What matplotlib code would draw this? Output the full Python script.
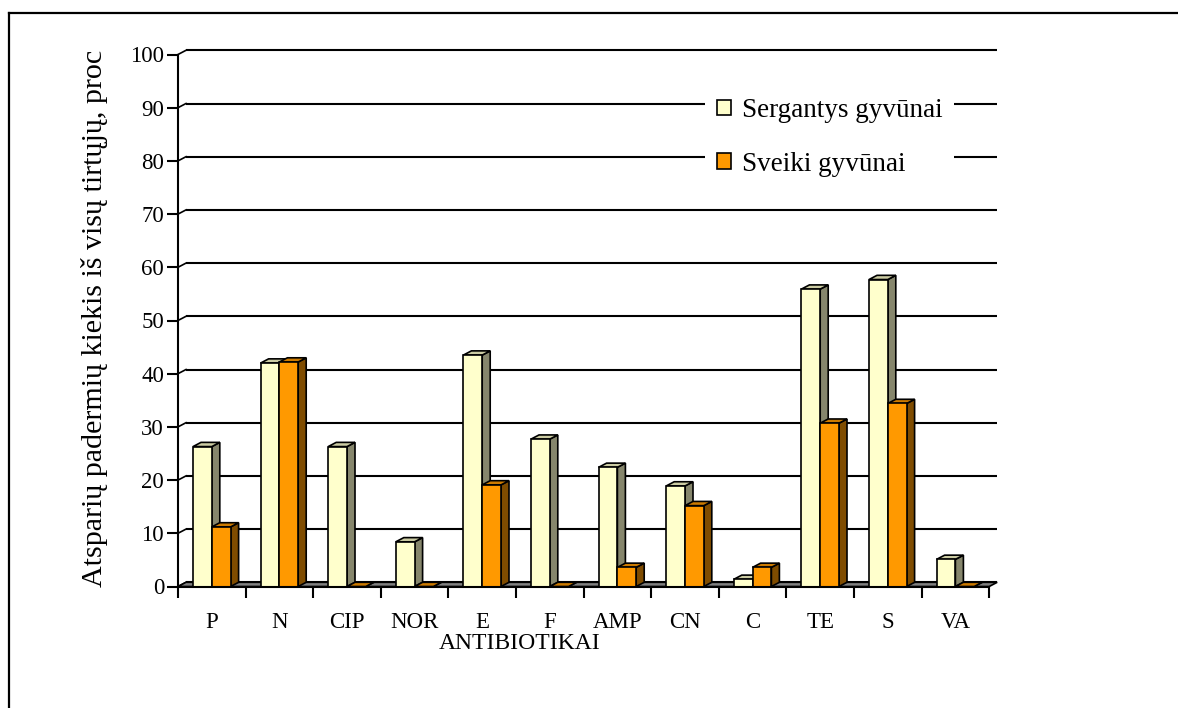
import matplotlib
matplotlib.use("Agg")
import matplotlib.pyplot as plt
from matplotlib.patches import Polygon, Patch
from matplotlib.lines import Line2D
import numpy as np

categories = ['P', 'N', 'CIP', 'NOR', 'E', 'F', 'AMP', 'CN', 'C', 'TE', 'S', 'VA']
sergantys = [26.3, 42.0, 26.3, 8.4, 43.5, 27.7, 22.4, 18.9, 1.35, 55.9, 57.7, 5.1]
sveiki = [11.2, 42.2, 0.0, 0.0, 19.1, 0.0, 3.6, 15.2, 3.6, 30.7, 34.4, 0.0]
series_names = ['Sergantys gyvūnai', 'Sveiki gyvūnai']
yticks = list(range(0, 101, 10))

plt.rcParams['font.family'] = ['Liberation Serif', 'DejaVu Serif']

W, H = 1178, 708
fig = plt.figure(figsize=(W / 100, H / 100), dpi=100)

# pixel geometry of the plot area
x0_px, y0_px = 178, 586.5
px_cat = 67.6      # pixels per category
px_unit = 5.32     # pixels per 1 %
ax_w, ax_h = 830, 546.5
ax = fig.add_axes([x0_px / W, (H - y0_px) / H, ax_w / W, ax_h / H])
ax.set_xlim(0, ax_w / px_cat)
ax.set_ylim(0, ax_h / px_unit)

DX = 8 / px_cat      # depth offset in data units
DY = 4.2 / px_unit
bw = 18.8 / px_cat   # bar width

n = len(categories)

# back wall gridlines + diagonal connectors
for v in yticks:
    ax.plot([DX, n + DX], [v + DY, v + DY], color='black', lw=1.5, zorder=1,
            clip_on=False, solid_capstyle='butt')
    ax.plot([0, DX], [v, v + DY], color='black', lw=1.2, zorder=1, clip_on=False)

# floor
ax.add_patch(Polygon([(0, 0), (n, 0), (n + DX, DY), (DX, DY)], closed=True,
                     facecolor='#808080', edgecolor='black', lw=1.2, zorder=2,
                     clip_on=False))

colors = {
    0: ('#FFFFCC', '#86866C', '#CCCCA3'),
    1: ('#FF9900', '#7F4C00', '#CC7A00'),
}


def bar3d(x, h, cols, z):
    front, side, top = cols
    kw = dict(closed=True, edgecolor='black', lw=1.2, zorder=z, clip_on=False,
              joinstyle='miter')
    ax.add_patch(Polygon([(x + bw, 0), (x + bw + DX, DY), (x + bw + DX, h + DY),
                          (x + bw, h)], facecolor=side, **kw))
    ax.add_patch(Polygon([(x, h), (x + bw, h), (x + bw + DX, h + DY),
                          (x + DX, h + DY)], facecolor=top, **kw))
    if h > 0:
        ax.add_patch(Polygon([(x, 0), (x + bw, 0), (x + bw, h), (x, h)],
                             facecolor=front, **kw))


z = 3
for i in range(n):
    c = i + 0.5
    bar3d(c - bw, sergantys[i], colors[0], z)
    bar3d(c, sveiki[i], colors[1], z + 1)
    z += 2

# axes
for s in ['top', 'right']:
    ax.spines[s].set_visible(False)
ax.patch.set_visible(False)
ax.spines['left'].set_bounds(0, 100)
ax.spines['bottom'].set_bounds(0, n)
ax.spines['left'].set_linewidth(1.5)
ax.spines['bottom'].set_linewidth(1.5)
ax.spines['left'].set_zorder(50)
ax.spines['bottom'].set_zorder(50)

ax.set_yticks(yticks)
ax.set_yticklabels([str(v) for v in yticks], fontsize=16.5)
ax.tick_params(axis='y', length=8, width=1.5, pad=2, direction='out')

ax.set_xticks(np.arange(n) + 0.5)
ax.set_xticklabels(categories, fontsize=16.5)
ax.set_xticks(np.arange(n + 1), minor=True)
ax.tick_params(axis='x', which='major', length=0, pad=18)
ax.tick_params(axis='x', which='minor', length=8, width=1.5, direction='out')

ax.set_ylabel('Atsparių padermių kiekis iš visų tirtųjų, proc', fontsize=21.6)
ax.yaxis.set_label_coords(-83 / ax_w, 268 / ax_h)
ax.yaxis.label.set_va('center')
ax.set_xlabel('ANTIBIOTIKAI', fontsize=17)
ax.xaxis.set_label_coords(342 / ax_w, -57 / ax_h)
ax.xaxis.label.set_va('center')

handles = [Patch(facecolor=colors[0][0], edgecolor='black', lw=1.2),
           Patch(facecolor=colors[1][0], edgecolor='black', lw=1.2)]
leg = ax.legend(handles, series_names, loc='upper left',
                bbox_to_anchor=(705 / W, 1 - 86 / H), bbox_transform=fig.transFigure,
                frameon=True, facecolor='white', edgecolor='none', framealpha=1,
                fancybox=False, fontsize=19.5, handlelength=0.5, handleheight=0.5,
                handletextpad=0.4, labelspacing=1.05, borderpad=0.45,
                borderaxespad=0)
leg.set_zorder(100)

# outer border (top and left edges visible)
fig.add_artist(Line2D([9 / W, 1], [1 - 13 / H, 1 - 13 / H], color='black', lw=1.6))
fig.add_artist(Line2D([9 / W, 9 / W], [0, 1 - 13 / H], color='black', lw=1.6))

fig.savefig('out.png', dpi=100)
